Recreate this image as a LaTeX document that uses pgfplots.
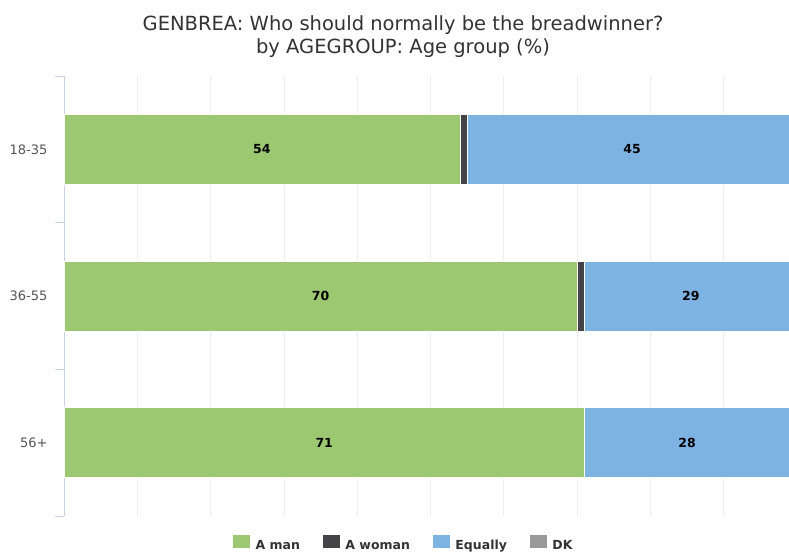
\documentclass[border=0pt]{standalone}
\usepackage{fontspec}
\usepackage{pgfplots}
\usepackage{pgfplotstable}
\pgfplotsset{compat=1.18}
\setmainfont{DejaVu Sans}
\setsansfont{DejaVu Sans}

\definecolor{cman}{HTML}{9BC870}
\definecolor{cwoman}{HTML}{434348}
\definecolor{cequal}{HTML}{7DB3E2}
\definecolor{cdk}{HTML}{999999}
\definecolor{axiscol}{HTML}{C8D4E6}
\definecolor{gridcol}{HTML}{EEEEEE}
\definecolor{titlecol}{HTML}{333333}
\definecolor{tickcol}{HTML}{555555}

% share of answers per age group (%)
\pgfplotstableread{
y man woman equally dk
0 54  1  45  0
1 70  1  29  0
2 71  0  28  1
}\breadwinner

\pgfplotsset{
  chartframe/.style={
    at={(64pt,37pt)}, anchor=south west,
    scale only axis, width=725pt, height=440pt,
    xmin=0, xmax=98.9, ymin=-0.5, ymax=2.5, y dir=reverse,
  },
}

\begin{document}
\begin{tikzpicture}
\path[use as bounding box] (0pt,0pt) rectangle (789pt,553pt);

\node[font=\fontsize{19.5}{23}\selectfont, text=titlecol, align=center]
  at (403pt,516pt) {GENBREA: Who should normally be the breadwinner?\\by AGEGROUP: Age group (\%)};

\begin{axis}[chartframe,
  xbar stacked, bar width=70pt,
  axis y line*=left, axis x line*=bottom,
  x axis line style={draw=none},
  y axis line style={draw=axiscol, line width=0.8pt},
  xtick={0,10,...,90}, xticklabels={},
  major x tick style={draw=none},
  xmajorgrids, x grid style={gridcol, line width=0.8pt},
  ytick={0,1,2}, yticklabels={18-35,36-55,56+},
  major tick length=0pt,
  minor ytick={-0.5,0.5,1.5,2.5},
  minor tick length=9pt, tick align=outside,
  minor y tick style={axiscol, line width=0.8pt},
  yticklabel style={font=\fontsize{13}{15}\selectfont, text=tickcol, xshift=-13pt},
  legend columns=4,
  legend style={at={(0.468,-0.063)}, anchor=center, draw=none, fill=none,
    font=\bfseries\fontsize{12.5}{14}\selectfont, text=titlecol,
    /tikz/every odd column/.append style={column sep=3pt},
    /tikz/every even column/.append style={column sep=20pt}},
  legend image code/.code={\fill[#1] (0pt,-3pt) rectangle (18pt,11pt);},
  every axis plot/.append style={draw=white, line width=0.5pt},
]
\addplot[fill=cman]   table[x=man, y=y] {\breadwinner};
\addplot[fill=cwoman] table[x=woman, y=y] {\breadwinner};
\addplot[fill=cequal] table[x=equally, y=y] {\breadwinner};
\addplot[fill=cdk]    table[x=dk, y=y] {\breadwinner};
\legend{A man, A woman, Equally, DK}
\end{axis}

% value labels centred in the large segments
\begin{axis}[chartframe, hide axis, clip=false]
\addplot[draw=none, mark=none, nodes near coords, point meta=explicit symbolic,
  every node near coord/.style={anchor=center, font=\bfseries\fontsize{12.5}{14}\selectfont, text=black}]
  table[x expr=\thisrow{man}/2, y=y, meta=man] {\breadwinner};
\addplot[draw=none, mark=none, nodes near coords, point meta=explicit symbolic,
  every node near coord/.style={anchor=center, font=\bfseries\fontsize{12.5}{14}\selectfont, text=black}]
  table[x expr=\thisrow{man}+\thisrow{woman}+\thisrow{equally}/2, y=y, meta=equally] {\breadwinner};
\end{axis}
\end{tikzpicture}
\end{document}
